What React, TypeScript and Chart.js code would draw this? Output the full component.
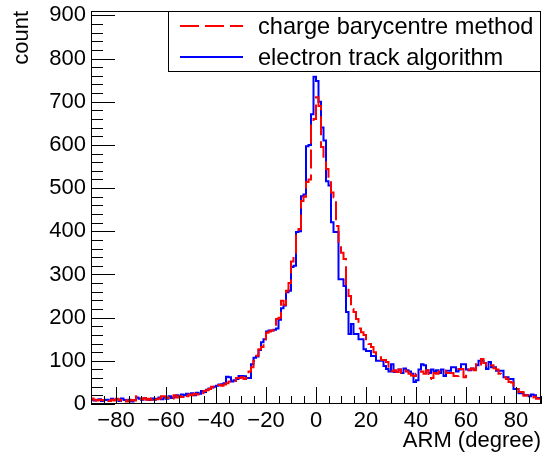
import React, { useEffect, useRef } from 'react';
import { Chart, registerables } from 'chart.js';

Chart.register(...registerables);

// ---- data -------------------------------------------------------------
const X_MIN = -90;
const X_MAX = 90;
const BIN_WIDTH = 1;
const Y_MIN = 0;
const Y_MAX = 910;

const xTickValues = [-80, -60, -40, -20, 0, 20, 40, 60, 80];
const yTickValues = [0, 100, 200, 300, 400, 500, 600, 700, 800, 900];

const seriesLabels = ['charge barycentre method', 'electron track algorithm'];
const xTitle = 'ARM (degree)';
const yTitle = 'count';

// counts per 1-degree bin, from -90 to 89 (bin low edges)
const chargeBarycentre = [
  15, 13, 10, 8, 10, 9, 8, 11, 7, 10,
  8, 12, 9, 7, 10, 6, 8, 9, 8, 18,
  19, 11, 14, 10, 12, 9, 14, 11, 13, 18,
  18, 14, 16, 12, 20, 15, 18, 16, 22, 18,
  22, 20, 24, 22, 28, 25, 30, 32, 35, 40,
  38, 40, 44, 42, 45, 48, 52, 50, 53, 60,
  60, 62, 58, 60, 75, 85, 100, 112, 127, 132,
  150, 165, 168, 170, 175, 197, 200, 239, 230, 262,
  280, 330, 350, 395, 405, 470, 480, 514, 520, 650,
  660, 710, 690, 595, 560, 544, 520, 490, 479, 412,
  366, 350, 336, 273, 250, 220, 213, 197, 175, 166,
  160, 145, 139, 132, 120, 108, 108, 102, 102, 97,
  80, 76, 78, 74, 80, 72, 78, 75, 70, 66,
  65, 70, 72, 75, 70, 78, 58, 60, 72, 70,
  75, 78, 77, 72, 72, 72, 65, 65, 81, 81,
  62, 78, 80, 82, 78, 92, 88, 104, 95, 89,
  92, 90, 83, 80, 70, 69, 62, 58, 51, 50,
  35, 35, 28, 28, 19, 20, 17, 15, 17, 12,
];

const electronTrack = [
  12, 10, 8, 9, 11, 7, 9, 10, 8, 12,
  9, 11, 7, 13, 9, 8, 10, 6, 9, 15,
  12, 10, 14, 11, 9, 13, 10, 12, 15, 11,
  15, 12, 18, 14, 16, 20, 18, 22, 20, 24,
  22, 25, 20, 26, 24, 30, 28, 33, 36, 38,
  40, 42, 45, 46, 48, 63, 62, 52, 55, 58,
  65, 65, 64, 60, 60, 92, 107, 110, 125, 143,
  150, 168, 170, 170, 172, 175, 195, 222, 228, 259,
  262, 317, 320, 398, 400, 481, 485, 597, 600, 671,
  758, 748, 700, 640, 610, 516, 506, 421, 398, 398,
  289, 289, 273, 213, 162, 185, 162, 162, 150, 150,
  127, 123, 123, 111, 111, 100, 100, 100, 88, 81,
  75, 92, 74, 74, 80, 72, 82, 78, 75, 70,
  51, 55, 80, 92, 90, 78, 72, 80, 75, 78,
  72, 80, 65, 77, 77, 85, 85, 75, 80, 92,
  92, 80, 78, 82, 80, 90, 100, 100, 95, 81,
  97, 85, 85, 77, 77, 77, 62, 62, 58, 58,
  35, 35, 25, 25, 21, 21, 18, 22, 20, 14,
];

// ---- helpers ----------------------------------------------------------
const FONT = '"Liberation Sans", Arial, Helvetica, sans-serif';
const RED = '#ff0000';
const BLUE = '#0000ff';
const RED_DASH = [19, 6];

function toStepData(values: number[]) {
  const pts = values.map((v, i) => ({ x: X_MIN + i * BIN_WIDTH, y: v }));
  pts.push({ x: X_MAX, y: values[values.length - 1] });
  return pts;
}

function fmtTick(v: number) {
  return v < 0 ? '\u2212' + Math.abs(v) : String(v);
}

const rootFramePlugin = {
  id: 'rootFrame',
  afterDraw(chart: any) {
    const { ctx, chartArea: a, scales } = chart;
    const x = scales.x;
    const y = scales.y;
    ctx.save();
    ctx.strokeStyle = '#000';
    ctx.lineWidth = 1;
    ctx.setLineDash([]);
    ctx.beginPath();
    for (let v = Y_MIN; v <= 900; v += 20) {
      const py = Math.round(y.getPixelForValue(v)) + 0.5;
      const len = v % 100 === 0 ? 24 : 12;
      ctx.moveTo(a.left, py);
      ctx.lineTo(a.left + len, py);
    }
    for (let v = X_MIN; v <= X_MAX; v += 5) {
      const px = Math.round(x.getPixelForValue(v)) + 0.5;
      const len = v % 20 === 0 ? 17 : 8;
      ctx.moveTo(px, a.bottom);
      ctx.lineTo(px, a.bottom - len);
    }
    ctx.stroke();
    ctx.strokeRect(a.left + 0.5, a.top + 0.5, a.right - a.left - 1, a.bottom - a.top - 1);

    // legend box
    const lx = 168;
    const ly = a.top;
    const lw = a.right - lx;
    const lh = 61;
    ctx.fillStyle = '#fff';
    ctx.fillRect(lx, ly, lw, lh);
    ctx.strokeRect(lx + 0.5, ly + 0.5, lw - 1, lh - 1);

    const rows = [
      { label: seriesLabels[0], color: RED, dash: RED_DASH, yy: 26 },
      { label: seriesLabels[1], color: BLUE, dash: [] as number[], yy: 57 },
    ];
    ctx.font = `23.6px ${FONT}`;
    ctx.textBaseline = 'middle';
    ctx.textAlign = 'left';
    for (const r of rows) {
      ctx.beginPath();
      ctx.lineWidth = 2;
      ctx.strokeStyle = r.color;
      ctx.setLineDash(r.dash);
      ctx.moveTo(180, r.yy);
      ctx.lineTo(243, r.yy);
      ctx.stroke();
      ctx.setLineDash([]);
      ctx.fillStyle = '#000';
      ctx.fillText(r.label, 258, r.yy + 1);
    }
    ctx.restore();
  },
};

export default function App() {
  const canvasRef = useRef<HTMLCanvasElement | null>(null);

  useEffect(() => {
    document.body.style.margin = '0';
    const canvas = canvasRef.current;
    if (!canvas) return;
    const chart = new Chart(canvas, {
      type: 'line',
      data: {
        datasets: [
          {
            label: seriesLabels[0],
            data: toStepData(chargeBarycentre),
            borderColor: RED,
            backgroundColor: RED,
            borderWidth: 2,
            borderDash: RED_DASH,
            stepped: 'after',
            pointRadius: 0,
            fill: false,
            order: 0,
          },
          {
            label: seriesLabels[1],
            data: toStepData(electronTrack),
            borderColor: BLUE,
            backgroundColor: BLUE,
            borderWidth: 2,
            stepped: 'after',
            pointRadius: 0,
            fill: false,
            order: 1,
          },
        ],
      } as any,
      options: {
        responsive: false,
        animation: false,
        devicePixelRatio: 1,
        layout: { padding: { top: 11, right: 4, left: 0, bottom: 0 } },
        plugins: {
          legend: { display: false },
          tooltip: { enabled: false },
        },
        scales: {
          x: {
            type: 'linear',
            min: X_MIN,
            max: X_MAX,
            grid: { display: false, drawTicks: false },
            border: { display: false },
            afterBuildTicks: (s: any) => {
              s.ticks = xTickValues.map((v) => ({ value: v }));
            },
            afterFit: (s: any) => {
              s.height = 56;
              s.paddingLeft = 0;
              s.paddingRight = 0;
            },
            ticks: {
              autoSkip: false,
              maxRotation: 0,
              minRotation: 0,
              padding: 4,
              color: '#000',
              font: { family: FONT, size: 22 },
              callback: (v: any) => fmtTick(Number(v)),
            },
            title: {
              display: true,
              text: xTitle,
              align: 'end',
              color: '#000',
              font: { family: FONT, size: 22 },
              padding: { top: 0, bottom: 6 },
            },
          },
          y: {
            type: 'linear',
            min: Y_MIN,
            max: Y_MAX,
            grid: { display: false, drawTicks: false },
            border: { display: false },
            afterBuildTicks: (s: any) => {
              s.ticks = yTickValues.map((v) => ({ value: v }));
            },
            afterFit: (s: any) => {
              s.width = 91;
              s.paddingTop = 0;
              s.paddingBottom = 0;
            },
            ticks: {
              autoSkip: false,
              padding: 5,
              color: '#000',
              font: { family: FONT, size: 22 },
              callback: (v: any) => fmtTick(Number(v)),
            },
            title: {
              display: true,
              text: yTitle,
              align: 'end',
              color: '#000',
              font: { family: FONT, size: 22 },
              padding: { top: 9, bottom: 0 },
            },
          },
        },
      } as any,
      plugins: [rootFramePlugin],
    });
    return () => chart.destroy();
  }, []);

  return (
    <div style={{ width: 545, height: 460, background: '#fff' }}>
      <canvas ref={canvasRef} width={545} height={460} style={{ display: 'block' }} />
    </div>
  );
}
